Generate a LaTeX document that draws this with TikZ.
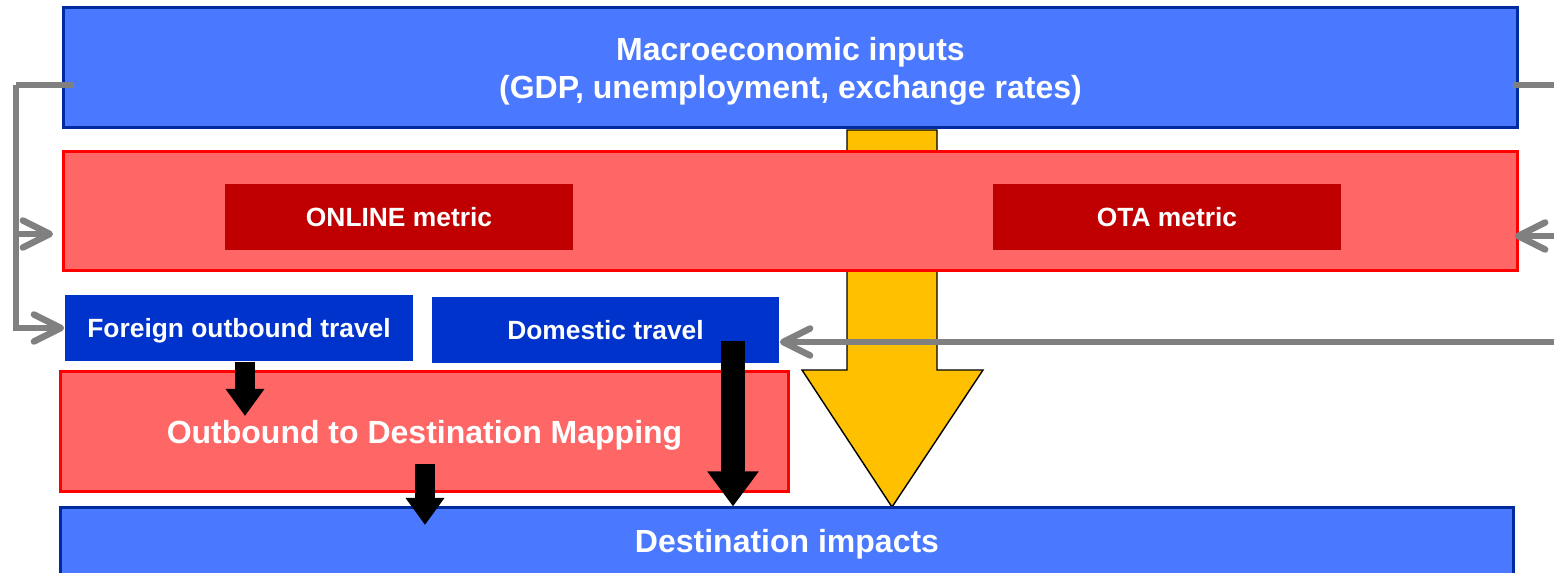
\documentclass[tikz,border=0pt]{standalone}
\usepackage{fontspec}
\setmainfont{Liberation Sans}
\usepackage{tikz}
\usetikzlibrary{arrows.meta,positioning,calc}
\definecolor{inputblue}{HTML}{4A78FF}
\definecolor{navyline}{HTML}{002B9E}
\definecolor{travelblue}{HTML}{0033CC}
\definecolor{bandred}{HTML}{FF6666}
\definecolor{metricred}{HTML}{C00000}
\definecolor{flowyellow}{HTML}{FFC000}
\definecolor{feedgray}{HTML}{808080}
\tikzset{box/.style={rectangle,inner sep=0pt,align=center,text depth=0pt,font=\bfseries,text=white}}

\begin{document}
\begin{tikzpicture}[x=0.01cm, y=-0.01cm]
        \tikzstyle{wide}=[box,fill=inputblue,draw=navyline,line width=0.03cm,minimum height=1.19cm,font=\bfseries\fontsize{9.1}{10.8}\selectfont]
        \tikzstyle{band}=[box,fill=bandred,draw=red,line width=0.03cm,minimum height=1.18cm]
        \tikzstyle{metric}=[box,fill=metricred,minimum width=3.48cm,minimum height=0.66cm,font=\bfseries\fontsize{7.5}{9}\selectfont]
        \tikzstyle{travel}=[box,fill=travelblue,minimum width=3.48cm,minimum height=0.66cm,font=\bfseries\fontsize{7.5}{9}\selectfont]
        \tikzstyle{feed}=[draw=feedgray,line width=0.065cm,-{Straight Barb[length=0.27cm,width=0.27cm,round]}]
        \tikzstyle{push}=[line width=0.19cm,-{Triangle[length=0.27cm,width=0.37cm]}]
        \useasboundingbox (0,0) rectangle (1554,573);
        % yellow flow arrow behind the boxes
        \draw[fill=flowyellow,line width=0.4pt] (847,130) -- (937,130) -- (937,370) -- (983,370) -- (892,507) -- (802,370) -- (847,370) -- cycle;
        \node[wide,minimum width=14.53cm] (inputs) at (790.5,67.5) {Macroeconomic inputs\\(GDP, unemployment, exchange rates)};
        \node[band,minimum width=14.53cm] (metrics) at (790.5,211) {};
        \node[metric] (online) at (399,217) {ONLINE metric};
        \node[metric] (ota) at (1167,217) {OTA metric};
        \node[travel] (foreign) at (239,328) {Foreign outbound travel};
        \node[travel,minimum width=3.47cm] (domestic) at (605.5,330) {Domestic travel};
        \node[band,minimum width=7.27cm,minimum height=1.19cm,font=\bfseries\fontsize{9.1}{11}\selectfont] (mapping) at (424.5,431.5) {Outbound to Destination Mapping};
        \node[wide,minimum width=14.52cm,minimum height=0.66cm] (impacts) at (787,541) {Destination impacts};
        % gray feeds
        \coordinate (lbus) at (16,85);
        \coordinate (rbus) at (1554,85);
        \draw[feed,-] ($(inputs.west |- lbus)+(12,0)$) -- (lbus);
        \draw[feed] (lbus) |- (foreign.west);
        \draw[feed] (lbus |- 0,234) -- ($(metrics.west |- 0,234)+(-9,0)$);
        \draw[feed,-] ($(inputs.east |- rbus)+(-6,0)$) -- (rbus);
        \draw[feed] (rbus |- 0,236) -- ($(metrics.east |- 0,236)+(-4,0)$);
        \draw[feed] (rbus |- 0,342) -- (domestic.east |- 0,342);
        % black pushes
        \coordinate (fo-tip) at (245,416);
        \coordinate (map-tip) at (425,525);
        \coordinate (dm-start) at (733,341);
        \draw[push] (foreign.south -| fo-tip) -- (fo-tip);
        \draw[push] ($(mapping.south)+(0.5,-29)$) -- (map-tip);
        \draw[push,line width=0.24cm,-{Triangle[length=0.35cm,width=0.49cm]}] (dm-start) -- (dm-start |- impacts.north);
\end{tikzpicture}
\end{document}
